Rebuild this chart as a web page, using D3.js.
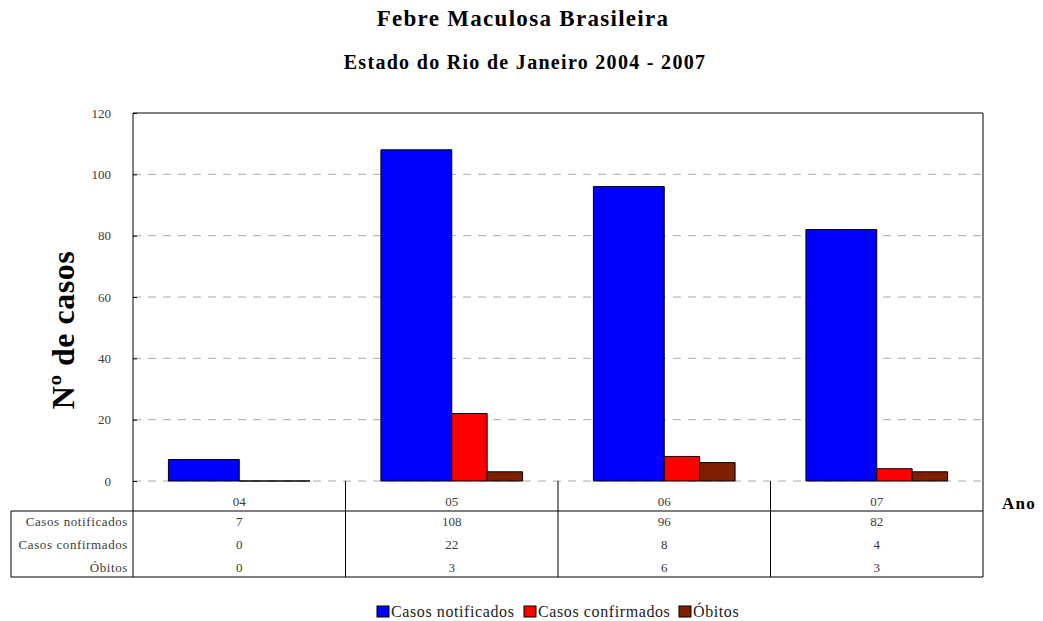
<!DOCTYPE html>
<html>
<head>
<meta charset="utf-8">
<script src="https://cdn.jsdelivr.net/npm/d3@7"></script>
<style>
  body { margin: 0; background: #fff; }
  text { font-family: "Liberation Serif", "DejaVu Serif", serif; }
</style>
</head>
<body>
<svg id="chart" width="1043" height="621"></svg>
<script>
'use strict'

// data
var years = ['04', '05', '06', '07'];
var seriesNames = ['Casos notificados', 'Casos confirmados', 'Óbitos'];
var notificados = [7, 108, 96, 82];
var confirmados = [0, 22, 8, 4];
var obitos = [0, 3, 6, 3];
var yTicks = [0, 20, 40, 60, 80, 100, 120];

var colors = ['#0000ff', '#ff0000', '#7f2000'];
var allSeries = [notificados, confirmados, obitos];
// blue bars are twice as wide as the others: slot start / slot width out of 6
var slotStart = [1, 3, 4], slotWidth = [2, 1, 1];

var svg = d3.select('#chart');
var plotLeft = 133, plotRight = 983, plotTop = 113, plotBottom = 481;
var textGray = '#3a3a3a';

var x = d3.scaleBand()
  .domain(years)
  .range([plotLeft, plotRight])
  .padding(0);

var xSub = d3.scaleLinear()
  .domain([0, 6])
  .range([0, x.bandwidth()]);

var y = d3.scaleLinear()
  .domain([0, 120])
  .range([plotBottom, plotTop]);

// titles
svg.append('text')
  .attr('x', 523).attr('y', 26)
  .attr('text-anchor', 'middle')
  .style('font-size', '23px').style('font-weight', 'bold')
  .style('letter-spacing', '1.3px')
  .text('Febre Maculosa Brasileira');
svg.append('text')
  .attr('x', 525).attr('y', 69)
  .attr('text-anchor', 'middle')
  .style('font-size', '20px').style('font-weight', 'bold')
  .style('letter-spacing', '1.3px')
  .text('Estado do Rio de Janeiro 2004 - 2007');

// gridlines
svg.append('g')
  .selectAll('line')
  .data(yTicks.filter(function(t){ return t < 120; }))
  .enter().append('line')
  .attr('x1', plotLeft).attr('x2', plotRight)
  .attr('y1', function(d){ return y(d); })
  .attr('y2', function(d){ return y(d); })
  .attr('stroke', '#aaa')
  .attr('stroke-dasharray', '8,7');

// y axis
var yAxis = svg.append('g')
  .attr('transform', 'translate(' + plotLeft + ',0)')
  .call(d3.axisLeft(y).tickValues(yTicks).tickSize(-4).tickPadding(22));
yAxis.select('.domain').remove();
yAxis.selectAll('.tick line').attr('stroke', '#000');
yAxis.selectAll('.tick text')
  .style('font-size', '13px')
  .style('font-family', '"Liberation Serif", serif')
  .attr('fill', textGray);

// bars (drawn as paths so zero values still show as a flat black line)
seriesNames.forEach(function(name, s){
  svg.append('g')
    .selectAll('path')
    .data(allSeries[s])
    .enter().append('path')
    .attr('d', function(d, i){
      var x0 = x(years[i]) + xSub(slotStart[s]);
      var w = xSub(slotWidth[s]);
      var p = d3.path();
      p.rect(x0, y(d), w, y(0) - y(d));
      return p.toString();
    })
    .attr('fill', colors[s])
    .attr('stroke', '#000')
    .attr('stroke-width', 1);
});

// plot frame
svg.append('line')
  .attr('x1', plotLeft).attr('x2', plotRight).attr('y1', plotTop).attr('y2', plotTop)
  .attr('stroke', '#000');

// data table
var rowTop = 511, rowH = 23, tableBottom = 577, tableLeft = 11;
var tbl = svg.append('g').attr('stroke', '#000').attr('stroke-width', 1);
tbl.append('line').attr('x1', plotLeft).attr('x2', plotLeft).attr('y1', plotTop).attr('y2', tableBottom);
tbl.append('line').attr('x1', plotRight).attr('x2', plotRight).attr('y1', plotTop).attr('y2', tableBottom);
tbl.selectAll('line.sep')
  .data(years.slice(1))
  .enter().append('line')
  .attr('class', 'sep')
  .attr('x1', function(d){ return x(d); })
  .attr('x2', function(d){ return x(d); })
  .attr('y1', plotBottom).attr('y2', tableBottom);
tbl.append('line').attr('x1', tableLeft).attr('x2', plotRight).attr('y1', rowTop).attr('y2', rowTop);
tbl.append('line').attr('x1', tableLeft).attr('x2', plotRight).attr('y1', tableBottom).attr('y2', tableBottom);
tbl.append('line').attr('x1', tableLeft).attr('x2', tableLeft).attr('y1', rowTop).attr('y2', tableBottom);

svg.append('g')
  .selectAll('text')
  .data(years)
  .enter().append('text')
  .attr('x', function(d){ return x(d) + x.bandwidth() / 2; })
  .attr('y', 506)
  .attr('text-anchor', 'middle')
  .attr('fill', textGray)
  .style('font-size', '13px')
  .text(function(d){ return d; });

seriesNames.forEach(function(name, s){
  var by = 526 + s * rowH;
  svg.append('text')
    .attr('x', 128).attr('y', by)
    .attr('text-anchor', 'end')
    .attr('fill', textGray)
    .style('font-size', '13px')
    .style('letter-spacing', '0.6px')
    .text(name);
  svg.append('g')
    .selectAll('text')
    .data(allSeries[s])
    .enter().append('text')
    .attr('x', function(d, i){ return x(years[i]) + x.bandwidth() / 2; })
    .attr('y', by)
    .attr('text-anchor', 'middle')
    .attr('fill', textGray)
    .style('font-size', '13px')
    .text(function(d){ return d; });
});

// axis titles
svg.append('text')
  .attr('transform', 'translate(74,330) rotate(-90)')
  .attr('text-anchor', 'middle')
  .style('font-size', '32px').style('font-weight', 'bold')
  .style('letter-spacing', '0.5px')
  .text('Nº de casos');
svg.append('text')
  .attr('x', 1002).attr('y', 509)
  .style('font-size', '17px').style('font-weight', 'bold')
  .style('letter-spacing', '1.2px')
  .text('Ano');

// legend
var legX = [377, 524, 679];
var leg = svg.append('g');
seriesNames.forEach(function(name, s){
  leg.append('rect')
    .attr('x', legX[s]).attr('y', 606)
    .attr('width', 12).attr('height', 11)
    .attr('fill', colors[s]).attr('stroke', '#000');
  leg.append('text')
    .attr('x', legX[s] + 14).attr('y', 617)
    .attr('fill', '#222')
    .style('font-size', '16px')
    .style('letter-spacing', '0.6px')
    .text(name);
});
</script>
</body>
</html>
